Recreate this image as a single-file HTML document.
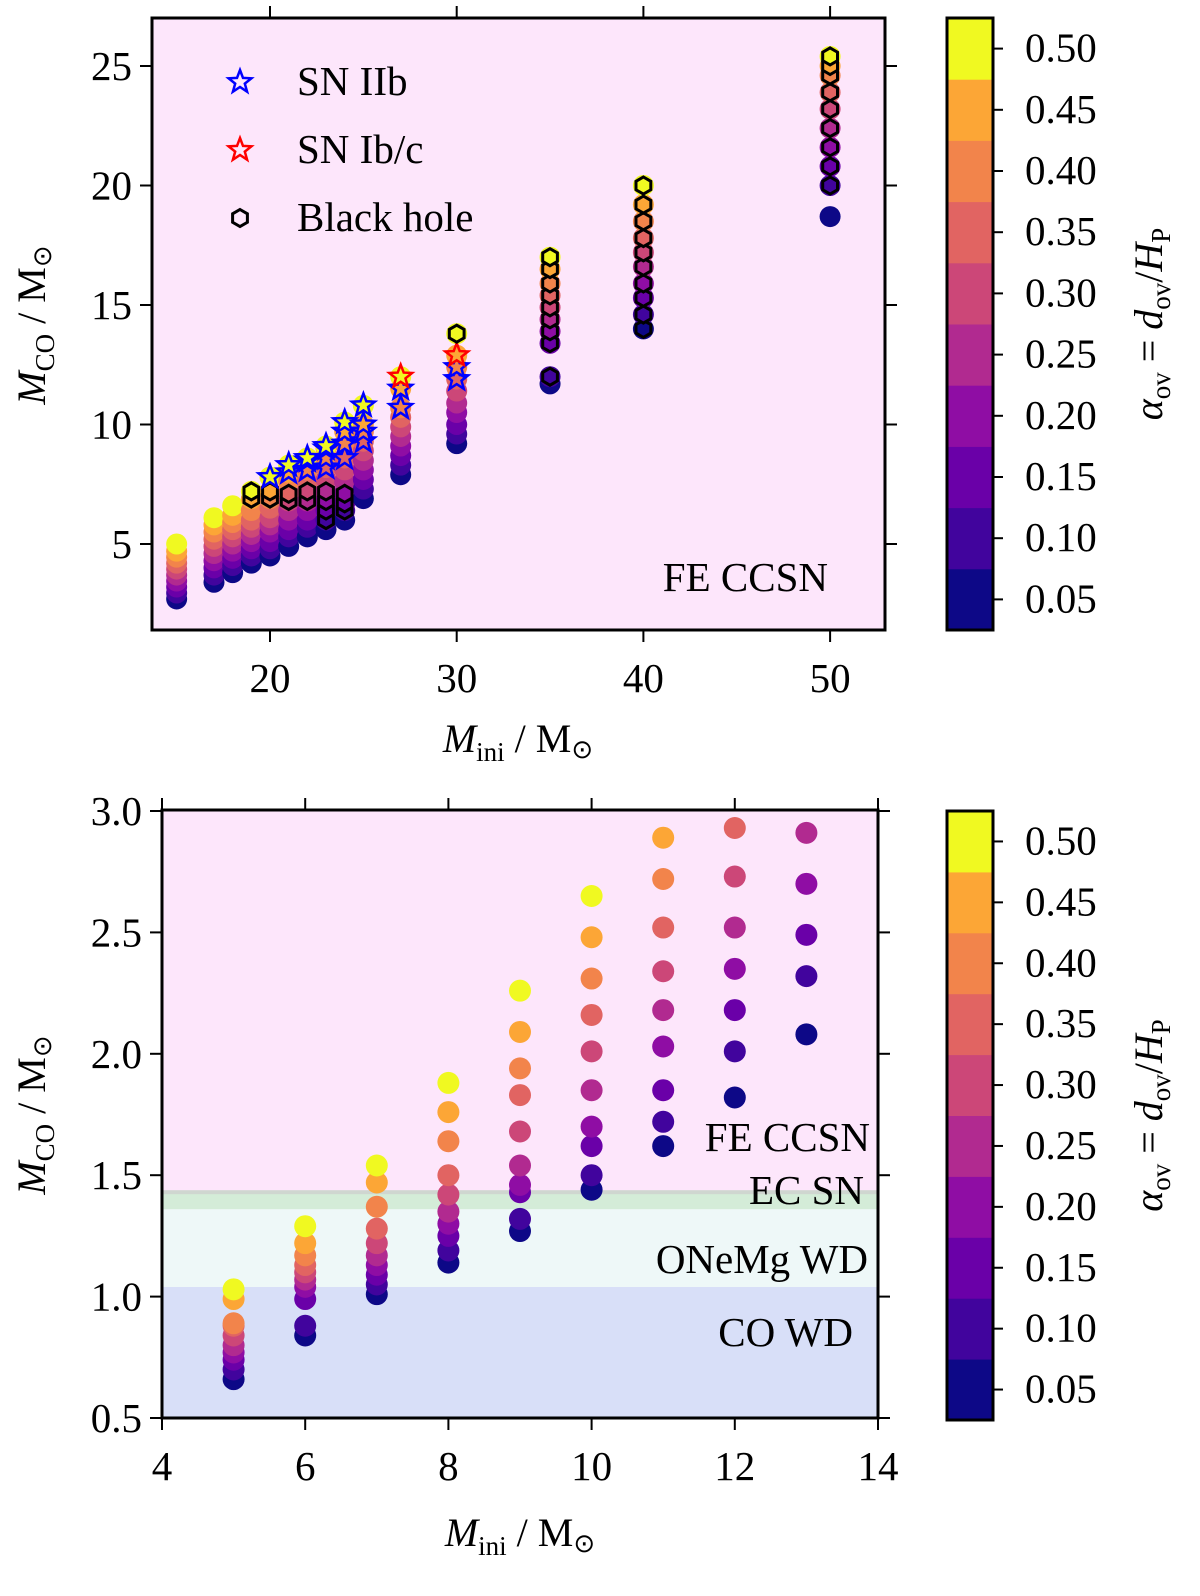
<!DOCTYPE html>
<html><head><meta charset="utf-8"><style>
html,body{margin:0;padding:0;background:#fff;width:1200px;height:1596px;overflow:hidden}
svg{display:block;font-family:"Liberation Serif",serif;position:absolute;left:0;top:0}
</style></head><body>
<svg id="fig" width="1200" height="1596" viewBox="0 0 1200 1596" xmlns="http://www.w3.org/2000/svg">
<g id="top"></g>
<g id="bot"></g>
</svg>
<script>
// ---- data ----
const alphaLevels=[0.05,0.10,0.15,0.20,0.25,0.30,0.35,0.40,0.45,0.50];
const plasmaColors=["#0d0887","#41049d","#6a00a8","#8f0da4","#b12a90","#cc4778","#e16462","#f2844b","#fca636","#f0f921"];
const topMasses=[15,17,18,19,20,21,22,23,24,25,27,30,35,40,50];
const topMco=[
[2.7,2.95,3.2,3.45,3.7,3.95,4.2,4.45,4.7,5.0],
[3.4,3.7,4.0,4.3,4.6,4.9,5.2,5.5,5.8,6.1],
[3.8,4.1,4.4,4.7,5.0,5.3,5.6,5.9,6.2,6.6],
[4.2,4.5,4.8,5.1,5.4,5.7,6.0,6.4,6.9,7.2],
[4.5,4.8,5.1,5.5,5.8,6.1,6.5,6.9,7.2,7.8],
[4.9,5.3,5.6,6.0,6.4,6.8,7.1,7.6,8.0,8.3],
[5.3,5.7,6.0,6.4,6.8,7.2,7.6,8.1,8.5,8.6],
[5.6,6.0,6.4,6.8,7.2,7.7,8.2,8.6,9.0,9.1],
[6.0,6.4,6.7,7.1,7.6,8.1,8.6,9.2,9.7,10.1],
[6.9,7.3,7.7,8.1,8.5,8.9,9.3,9.7,10.0,10.8],
[7.9,8.3,8.7,9.1,9.5,9.9,10.3,10.7,11.5,12.0],
[9.2,9.6,10.0,10.5,10.9,11.4,11.9,12.4,12.9,13.8],
[11.7,12.0,13.4,13.9,14.4,14.9,15.4,15.9,16.5,17.0],
[14.0,14.6,15.3,15.9,16.6,17.2,17.8,18.5,19.2,20.0],
[18.7,20.0,20.8,21.6,22.4,23.2,23.9,24.6,25.0,25.4]];
// n=normal, h=black hole, b=SN IIb, r=SN Ib/c
const topType=[
"nnnnnnnnnn","nnnnnnnnnn","nnnnnnnnnn","nnnnnnnnhh","nnnnnnnhhb",
"nnnnnhhnbb","nnnnhhnbbb","nhhhhnbbbb","nhhhnnbbbb","nnnnnnbbbb",
"nnnnnnnbbr","nnnnnnbbrh","nhhhhhhhhh","hhhhhhhhhh","nhhhhhhhhh"];
const botMasses=[5,6,7,8,9,10,11,12,13];
const botMco=[
[0.66,0.70,0.74,0.77,0.80,0.84,0.88,0.89,0.99,1.03],
[0.84,0.88,0.99,1.04,1.07,1.10,1.13,1.17,1.22,1.29],
[1.01,1.05,1.09,1.13,1.17,1.22,1.28,1.37,1.47,1.54],
[1.14,1.19,1.25,1.30,1.35,1.42,1.50,1.64,1.76,1.88],
[1.27,1.32,1.43,1.46,1.54,1.68,1.83,1.94,2.09,2.26],
[1.44,1.50,1.62,1.70,1.85,2.01,2.16,2.31,2.48,2.65],
[1.62,1.72,1.85,2.03,2.18,2.34,2.52,2.72,2.89,null],
[1.82,2.01,2.18,2.35,2.52,2.73,2.93,null,null,null],
[2.08,2.32,2.49,2.70,2.91,null,null,null,null,null]];
const topXTicks=[20,30,40,50], topYTicks=[5,10,15,20,25];
const botXTicks=[4,6,8,10,12,14], botYTicks=["0.5","1.0","1.5","2.0","2.5","3.0"];
const regionBounds=[0.5,1.04,1.36,1.43,3.1];
const regionColors=["#d8dff8","#eef8f8","#d4ecd8","#fde6fb"];
const regionLabels=["CO WD","ONeMg WD","EC SN","FE CCSN"];

const NS="http://www.w3.org/2000/svg";
function el(p,t,a){const e=document.createElementNS(NS,t);for(const k in a)e.setAttribute(k,a[k]);p.appendChild(e);return e;}
function txt(p,x,y,s,size,anchor,name){const t=el(p,"text",{x:x,y:y,"font-size":size,"text-anchor":anchor||"middle"});t.textContent=s;


return t;}
function starPath(cx,cy,R){const r=R*0.42;let d="";for(let i=0;i<10;i++){const a=-Math.PI/2+i*Math.PI/5;const rr=i%2?r:R;d+=(i?"L":"M")+(cx+rr*Math.cos(a)).toFixed(1)+","+(cy+rr*Math.sin(a)).toFixed(1);}return d+"Z";}
function hexPath(cx,cy,R){let d="";for(let i=0;i<6;i++){const a=-Math.PI/2+i*Math.PI/3;d+=(i?"L":"M")+(cx+R*Math.cos(a)).toFixed(1)+","+(cy+R*Math.sin(a)).toFixed(1);}return d+"Z";}

function colorbar(p,y0,y1){
  const x0=947,x1=993,h=(y1-y0)/alphaLevels.length;
  alphaLevels.forEach((a,i)=>{const yy=y1-(i+1)*h;
    const r=el(p,"rect",{x:x0,y:yy,width:x1-x0,height:h+0.5,fill:plasmaColors[i]});
    
    
    el(p,"line",{x1:x1,x2:x1+10,y1:yy+h/2,y2:yy+h/2,stroke:"#000","stroke-width":2});
    txt(p,x1+32,yy+h/2+13,a.toFixed(2),41,"start","colorbar-tick-label");
  });
  el(p,"rect",{x:x0,y:y0,width:x1-x0,height:y1-y0,fill:"none",stroke:"#000","stroke-width":3});
  const g=el(p,"g",{transform:`translate(1162,${(y0+y1)/2}) rotate(-90)`});
  const t=el(g,"text",{x:0,y:0,"font-size":40,"text-anchor":"middle"});
  t.innerHTML='<tspan font-style="italic">α</tspan><tspan font-size="27" dy="8">ov</tspan><tspan dy="-8"> = </tspan><tspan font-style="italic">d</tspan><tspan font-size="27" dy="8">ov</tspan><tspan dy="-8">/</tspan><tspan font-style="italic">H</tspan><tspan font-size="27" dy="8">P</tspan>';
  
  
}
function axisLabels(p,cx,by,cy,lx){
  const t=el(p,"text",{x:cx,y:by,"font-size":40,"text-anchor":"middle"});
  t.innerHTML='<tspan font-style="italic">M</tspan><tspan font-size="27" dy="9">ini</tspan><tspan dy="-9"> / M</tspan><tspan font-size="26" dy="6">⊙</tspan>';
  
  
  const g=el(p,"g",{transform:`translate(${lx},${cy}) rotate(-90)`});
  const t2=el(g,"text",{x:0,y:0,"font-size":40,"text-anchor":"middle"});
  t2.innerHTML='<tspan font-style="italic">M</tspan><tspan font-size="27" dy="9">CO</tspan><tspan dy="-9"> / M</tspan><tspan font-size="26" dy="6">⊙</tspan>';
  
  
}

// ---- top panel ----
(function(){
 const p=document.getElementById("top");
 const L=152,R=885,T=18,B=630;
 const X=v=>270+(v-20)*18.67, Y=v=>66+(25-v)*23.9;
 const bg=el(p,"rect",{x:L,y:T,width:R-L,height:B-T,fill:"#fde6fb"});
 
 
 topMasses.forEach((m,i)=>topMco[i].forEach((v,j)=>{
   const c=el(p,"circle",{cx:X(m),cy:Y(v),r:10.5,fill:plasmaColors[j]});
   
   
 }));
 topMasses.forEach((m,i)=>topMco[i].forEach((v,j)=>{
   const t=topType[i][j];
   if(t==="h"){const h=el(p,"path",{d:hexPath(X(m),Y(v),8.5),fill:plasmaColors[j],stroke:"#000","stroke-width":3});
     
     }
   if(t==="b"||t==="r"){const s=el(p,"path",{d:starPath(X(m),Y(v),12),fill:plasmaColors[j],stroke:t==="b"?"#0000ff":"#ff0000","stroke-width":2.5,"stroke-linejoin":"miter"});
     
     }
 }));
 el(p,"rect",{x:L,y:T,width:R-L,height:B-T,fill:"none",stroke:"#000","stroke-width":3});
 topXTicks.forEach(v=>{el(p,"line",{x1:X(v),x2:X(v),y1:B,y2:B+12,stroke:"#000","stroke-width":2});
   el(p,"line",{x1:X(v),x2:X(v),y1:T,y2:T-12,stroke:"#000","stroke-width":2});
   txt(p,X(v),B+62,String(v),41,"middle","x-tick-label");});
 topYTicks.forEach(v=>{el(p,"line",{x1:L,x2:L-12,y1:Y(v),y2:Y(v),stroke:"#000","stroke-width":2});
   el(p,"line",{x1:R,x2:R+12,y1:Y(v),y2:Y(v),stroke:"#000","stroke-width":2});
   txt(p,L-20,Y(v)+14,String(v),41,"end","y-tick-label");});
 el(p,"path",{d:starPath(240,82,12),fill:"none",stroke:"#0000ff","stroke-width":2.5});
 txt(p,297,95,"SN IIb",41,"start","legend-sn-iib");
 el(p,"path",{d:starPath(240,150,12),fill:"none",stroke:"#ff0000","stroke-width":2.5});
 txt(p,297,163,"SN Ib/c",41,"start","legend-sn-ibc");
 el(p,"path",{d:hexPath(240,218,8.5),fill:"none",stroke:"#000","stroke-width":3});
 txt(p,297,231,"Black hole",41,"start","legend-black-hole");
 txt(p,828,591,"FE CCSN",41,"end","region-label-fe-ccsn");
 axisLabels(p,518,752,325,45);
 colorbar(p,18,630);
})();

// ---- bottom panel ----
(function(){
 const p=document.getElementById("bot");
 const L=162,R=878,T=810,B=1418;
 const X=v=>162+(v-4)*71.6, Y=v=>811+(3.0-v)*242.8;
 regionColors.forEach((c,i)=>{
   const y1=Math.max(T,Y(regionBounds[i+1])),y0=Math.min(B,Y(regionBounds[i]));
   const r=el(p,"rect",{x:L,y:y1,width:R-L,height:y0-y1,fill:c});
   
   
 });
 el(p,"rect",{x:L,y:Y(1.43)-2,width:R-L,height:4,fill:"#cfd6d0"});
 botMasses.forEach((m,i)=>botMco[i].forEach((v,j)=>{
   if(v===null)return;
   const c=el(p,"circle",{cx:X(m),cy:Y(v),r:11,fill:plasmaColors[j]});
   
   
 }));
 txt(p,870,1151,"FE CCSN",41,"end","region-label-fe-ccsn");
 txt(p,864,1204,"EC SN",41,"end","region-label-ec-sn");
 txt(p,868,1273,"ONeMg WD",41,"end","region-label-onemg-wd");
 txt(p,853,1346,"CO WD",41,"end","region-label-co-wd");
 el(p,"rect",{x:L,y:T,width:R-L,height:B-T,fill:"none",stroke:"#000","stroke-width":3});
 botXTicks.forEach(v=>{el(p,"line",{x1:X(v),x2:X(v),y1:B,y2:B+12,stroke:"#000","stroke-width":2});
   el(p,"line",{x1:X(v),x2:X(v),y1:T,y2:T-12,stroke:"#000","stroke-width":2});
   txt(p,X(v),B+62,String(v),41,"middle","x-tick-label");});
 botYTicks.forEach(s=>{const v=parseFloat(s);el(p,"line",{x1:L,x2:L-12,y1:Y(v),y2:Y(v),stroke:"#000","stroke-width":2});
   el(p,"line",{x1:R,x2:R+12,y1:Y(v),y2:Y(v),stroke:"#000","stroke-width":2});
   txt(p,L-20,Y(v)+14,s,41,"end","y-tick-label");});
 axisLabels(p,520,1546,1115,45);
 colorbar(p,811,1420);
})();
</script>
</body></html>
